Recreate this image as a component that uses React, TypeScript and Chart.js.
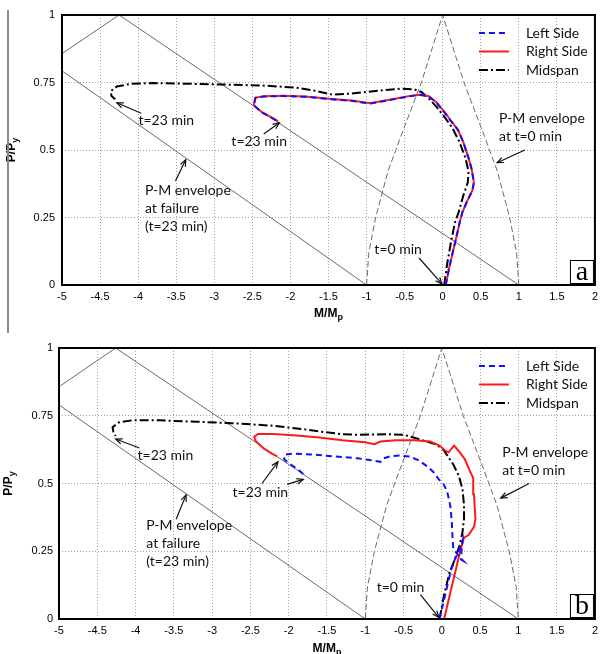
import React, { useEffect, useRef } from 'react';
import { Chart, registerables } from 'chart.js';

Chart.register(...registerables);

type Pt = [number, number];

// ---------- axis ticks ----------
const X_MIN = -5;
const X_MAX = 2;
const X_STEP = 0.5;
const Y_MIN = 0;
const Y_MAX = 1;
const Y_STEP = 0.25;
const X_TICK_LABELS = ['-5', '-4.5', '-4', '-3.5', '-3', '-2.5', '-2', '-1.5', '-1', '-0.5', '0', '0.5', '1', '1.5', '2'];
const Y_TICK_LABELS = ['0', '0.25', '0.5', '0.75', '1'];

const SERIES_NAMES = ['Left Side', 'Right Side', 'Midspan'];

// ---------- panel (a) ----------
const A_LEFT: Pt[] = [
  [0.04, 0], [0.09, 0.07], [0.14, 0.13], [0.19, 0.19], [0.23, 0.24], [0.26, 0.27], [0.32, 0.31],
  [0.39, 0.35], [0.41, 0.38], [0.38, 0.43], [0.34, 0.47], [0.27, 0.53], [0.2, 0.575], [0.1, 0.61],
  [0.02, 0.64], [-0.08, 0.675], [-0.18, 0.698], [-0.3, 0.705], [-0.45, 0.698], [-0.7, 0.685],
  [-0.95, 0.672], [-1.2, 0.682], [-1.5, 0.689], [-1.8, 0.697], [-2.1, 0.7], [-2.35, 0.698],
  [-2.46, 0.693], [-2.48, 0.665], [-2.38, 0.64], [-2.25, 0.62], [-2.15, 0.603],
];
const A_RIGHT: Pt[] = [
  [0.04, 0], [0.09, 0.07], [0.14, 0.13], [0.19, 0.19], [0.23, 0.24], [0.26, 0.27], [0.32, 0.31],
  [0.39, 0.35], [0.41, 0.38], [0.38, 0.43], [0.34, 0.47], [0.27, 0.53], [0.2, 0.575], [0.1, 0.612],
  [0.02, 0.642], [-0.08, 0.676], [-0.18, 0.699], [-0.3, 0.705], [-0.45, 0.699], [-0.7, 0.686],
  [-0.95, 0.673], [-1.2, 0.683], [-1.5, 0.69], [-1.8, 0.698], [-2.1, 0.701], [-2.35, 0.699],
  [-2.46, 0.694], [-2.48, 0.666], [-2.38, 0.641], [-2.25, 0.621], [-2.16, 0.606],
];
const A_MID: Pt[] = [
  [0.02, 0], [0.06, 0.08], [0.11, 0.16], [0.16, 0.23], [0.21, 0.27], [0.27, 0.33], [0.33, 0.38],
  [0.34, 0.42], [0.3, 0.47], [0.22, 0.53], [0.13, 0.58], [0.03, 0.62], [-0.08, 0.66], [-0.18, 0.69],
  [-0.28, 0.715], [-0.38, 0.725], [-0.55, 0.727], [-0.75, 0.722], [-1.0, 0.715], [-1.25, 0.708],
  [-1.45, 0.705], [-1.65, 0.718], [-1.9, 0.73], [-2.3, 0.738], [-2.8, 0.742], [-3.3, 0.745],
  [-3.8, 0.748], [-4.1, 0.745], [-4.28, 0.735], [-4.36, 0.718], [-4.35, 0.7], [-4.3, 0.688],
];
const A_FAIL_UPPER: Pt[] = [[-5, 0.857], [-4.25, 1], [1, 0]];
const A_FAIL_LOWER: Pt[] = [[-5, 0.793], [-1, 0]];

// ---------- panel (b) ----------
const B_LEFT: Pt[] = [
  [-0.03, 0], [0.02, 0.06], [0.07, 0.12], [0.12, 0.18], [0.17, 0.22], [0.22, 0.25], [0.27, 0.29],
  [0.26, 0.26], [0.25, 0.22], [0.28, 0.215], [0.2, 0.24], [0.15, 0.26], [0.14, 0.3], [0.13, 0.36],
  [0.11, 0.42], [0.07, 0.47], [0.02, 0.5], [-0.04, 0.515], [-0.1, 0.54], [-0.2, 0.565], [-0.3, 0.585],
  [-0.42, 0.6], [-0.55, 0.603], [-0.68, 0.6], [-0.76, 0.593], [-0.8, 0.58], [-0.9, 0.585],
  [-1.1, 0.593], [-1.4, 0.6], [-1.7, 0.607], [-1.95, 0.61], [-2.05, 0.607], [-2.06, 0.59],
  [-2.0, 0.575], [-1.92, 0.56], [-1.85, 0.545], [-1.79, 0.53],
];
const B_RIGHT: Pt[] = [
  [0.03, 0], [0.08, 0.06], [0.13, 0.12], [0.19, 0.19], [0.24, 0.25], [0.29, 0.3], [0.35, 0.31],
  [0.42, 0.34], [0.44, 0.37], [0.43, 0.41], [0.42, 0.46], [0.41, 0.52], [0.36, 0.55], [0.3, 0.59],
  [0.22, 0.62], [0.16, 0.64], [0.13, 0.63], [0.09, 0.615], [0.05, 0.62], [-0.03, 0.64],
  [-0.15, 0.655], [-0.35, 0.66], [-0.6, 0.66], [-0.8, 0.655], [-0.88, 0.645], [-1.0, 0.652],
  [-1.3, 0.66], [-1.6, 0.67], [-1.9, 0.677], [-2.2, 0.683], [-2.4, 0.683], [-2.45, 0.673],
  [-2.43, 0.656], [-2.33, 0.63], [-2.22, 0.61], [-2.15, 0.6],
];
const B_MID: Pt[] = [
  [-0.03, 0], [0.03, 0.09], [0.1, 0.17], [0.17, 0.22], [0.23, 0.27], [0.27, 0.32], [0.29, 0.37],
  [0.29, 0.42], [0.27, 0.48], [0.22, 0.53], [0.15, 0.57], [0.08, 0.6], [0.02, 0.625], [-0.08, 0.645],
  [-0.2, 0.655], [-0.35, 0.668], [-0.5, 0.68], [-0.7, 0.682], [-0.9, 0.681], [-1.1, 0.68],
  [-1.3, 0.682], [-1.55, 0.69], [-1.8, 0.7], [-2.2, 0.713], [-2.7, 0.722], [-3.2, 0.728],
  [-3.7, 0.733], [-4.05, 0.733], [-4.22, 0.725], [-4.3, 0.708], [-4.29, 0.69], [-4.26, 0.675],
];
const B_FAIL_UPPER: Pt[] = [[-5, 0.857], [-4.26, 1], [1, 0]];
const B_FAIL_LOWER: Pt[] = [[-5, 0.79], [-1, 0]];

// ---------- P-M envelope at t=0 (both panels) ----------
const ENV_T0: Pt[] = [
  [-1, 0], [-0.97, 0.12], [-0.88, 0.25], [-0.72, 0.42], [-0.55, 0.55], [-0.28, 0.75], [0, 1],
  [0.28, 0.75], [0.55, 0.55], [0.72, 0.42], [0.88, 0.25], [0.97, 0.12], [1, 0],
];

// ---------- annotations ----------
type Note = { lines: string[]; x: number; y: number; align: 'left' | 'center' };
type Arrow = { from: Pt; to: Pt };

const A_NOTES: Note[] = [
  { lines: ['t=23 min'], x: -3.63, y: 0.611, align: 'center' },
  { lines: ['t=23 min'], x: -2.41, y: 0.531, align: 'center' },
  { lines: ['P-M envelope', 'at failure', '(t=23 min)'], x: -3.91, y: 0.35, align: 'left' },
  { lines: ['P-M envelope', 'at t=0 min'], x: 0.74, y: 0.616, align: 'left' },
  { lines: ['t=0 min'], x: -0.585, y: 0.13, align: 'center' },
];
const A_ARROWS: Arrow[] = [
  { from: [-3.96, 0.636], to: [-4.28, 0.675] },
  { from: [-2.35, 0.559], to: [-2.145, 0.601] },
  { from: [-3.51, 0.385], to: [-3.375, 0.464] },
  { from: [1.08, 0.5], to: [0.715, 0.453] },
  { from: [-0.31, 0.1], to: [-0.01, 0.004] },
];
const B_NOTES: Note[] = [
  { lines: ['t=23 min'], x: -3.61, y: 0.603, align: 'center' },
  { lines: ['t=23 min'], x: -2.37, y: 0.466, align: 'center' },
  { lines: ['P-M envelope', 'at failure', '(t=23 min)'], x: -3.86, y: 0.344, align: 'left' },
  { lines: ['P-M envelope', 'at t=0 min'], x: 0.79, y: 0.613, align: 'left' },
  { lines: ['t=0 min'], x: -0.54, y: 0.118, align: 'center' },
];
const B_ARROWS: Arrow[] = [
  { from: [-3.95, 0.631], to: [-4.26, 0.664] },
  { from: [-2.35, 0.5], to: [-2.14, 0.58] },
  { from: [-2.02, 0.497], to: [-1.81, 0.515] },
  { from: [-3.47, 0.368], to: [-3.34, 0.458] },
  { from: [1.14, 0.5], to: [0.77, 0.446] },
  { from: [-0.28, 0.09], to: [-0.04, 0.006] },
];

const NOTE_FONT = '14px Lato, "Open Sans", sans-serif';
const TICK_FONT_FAMILY = '"Liberation Sans", Arial, sans-serif';

// ---------- styles ----------
const LEFT_STYLE = { borderColor: '#1010ff', borderWidth: 2, borderDash: [6, 4] };
const RIGHT_STYLE = { borderColor: '#ff1a1a', borderWidth: 2, borderDash: [] as number[] };
const MID_STYLE = { borderColor: '#000000', borderWidth: 2, borderDash: [9, 3, 2, 3] };
const FAIL_STYLE = { borderColor: '#6a6a6a', borderWidth: 1, borderDash: [] as number[] };
const ENV_STYLE = { borderColor: '#6a6a6a', borderWidth: 1, borderDash: [6, 3] };

function toXY(pts: Pt[]) {
  return pts.map(([x, y]) => ({ x, y }));
}

function labelFor(labels: string[], min: number, step: number, v: number) {
  const i = Math.round((v - min) / step);
  return labels[i] ?? '';
}

function drawSubText(ctx: CanvasRenderingContext2D, main: string, sub: string, cx: number, cy: number) {
  const mainFont = `bold 12px ${TICK_FONT_FAMILY}`;
  const subFont = `bold 9px ${TICK_FONT_FAMILY}`;
  ctx.font = mainFont;
  const wm = ctx.measureText(main).width;
  ctx.font = subFont;
  const ws = ctx.measureText(sub).width;
  const x0 = cx - (wm + ws) / 2;
  ctx.textAlign = 'left';
  ctx.textBaseline = 'alphabetic';
  ctx.font = mainFont;
  ctx.fillText(main, x0, cy + 4);
  ctx.font = subFont;
  ctx.fillText(sub, x0 + wm, cy + 7);
}

const overlayPlugin = {
  id: 'overlay',
  afterDatasetsDraw(chart: any, _args: any, opts: any) {
    const ctx: CanvasRenderingContext2D = chart.ctx;
    const { left, right, top, bottom } = chart.chartArea;
    const xs = chart.scales.x;
    const ys = chart.scales.y;
    ctx.save();

    // arrows
    ctx.strokeStyle = '#111';
    ctx.fillStyle = '#111';
    ctx.lineWidth = 1.2;
    ctx.setLineDash([]);
    (opts.arrows as Arrow[]).forEach((a) => {
      const x1 = xs.getPixelForValue(a.from[0]);
      const y1 = ys.getPixelForValue(a.from[1]);
      const x2 = xs.getPixelForValue(a.to[0]);
      const y2 = ys.getPixelForValue(a.to[1]);
      ctx.beginPath();
      ctx.moveTo(x1, y1);
      ctx.lineTo(x2, y2);
      ctx.stroke();
      const ang = Math.atan2(y2 - y1, x2 - x1);
      const len = 7;
      const spread = 0.4;
      ctx.beginPath();
      ctx.moveTo(x2 - len * Math.cos(ang - spread), y2 - len * Math.sin(ang - spread));
      ctx.lineTo(x2, y2);
      ctx.lineTo(x2 - len * Math.cos(ang + spread), y2 - len * Math.sin(ang + spread));
      ctx.stroke();
    });

    // notes
    ctx.font = NOTE_FONT;
    ctx.textBaseline = 'middle';
    ctx.fillStyle = '#111';
    (opts.notes as Note[]).forEach((n) => {
      const px = xs.getPixelForValue(n.x);
      const py = ys.getPixelForValue(n.y);
      ctx.textAlign = n.align;
      n.lines.forEach((line, i) => ctx.fillText(line, px, py + i * 18));
    });

    // legend
    const lx = right - 116;
    const names: string[] = opts.names;
    names.forEach((name, i) => {
      const ds = chart.data.datasets[i];
      const ly = top + 18 + i * 18.5;
      ctx.strokeStyle = ds.borderColor;
      ctx.lineWidth = ds.borderWidth;
      ctx.setLineDash(ds.borderDash || []);
      ctx.beginPath();
      ctx.moveTo(lx, ly);
      ctx.lineTo(lx + 30, ly);
      ctx.stroke();
      ctx.setLineDash([]);
      ctx.fillStyle = '#111';
      ctx.font = NOTE_FONT;
      ctx.textAlign = 'left';
      ctx.textBaseline = 'middle';
      ctx.fillText(name, lx + 47, ly);
    });

    // panel letter box
    const bx = right - 25;
    const by = bottom - 25;
    ctx.fillStyle = '#fff';
    ctx.fillRect(bx, by, 23, 23);
    ctx.strokeStyle = '#000';
    ctx.lineWidth = 1;
    ctx.strokeRect(bx + 0.5, by + 0.5, 23, 23);
    ctx.fillStyle = '#000';
    ctx.font = '28px "Liberation Serif", "Times New Roman", serif';
    ctx.textAlign = 'center';
    ctx.textBaseline = 'alphabetic';
    ctx.fillText(opts.letter, bx + 12, by + 20);

    // frame
    ctx.strokeStyle = '#000';
    ctx.lineWidth = 2;
    ctx.strokeRect(left, top, right - left, bottom - top);

    // axis titles
    ctx.fillStyle = '#000';
    drawSubText(ctx, 'M/M', 'p', (left + right) / 2, bottom + opts.xTitleOffset);
    ctx.save();
    ctx.translate(opts.yTitleX, (top + bottom) / 2);
    ctx.rotate(-Math.PI / 2);
    drawSubText(ctx, 'P/P', 'y', 0, -4);
    ctx.restore();

    ctx.restore();
  },
};

type PanelCfg = {
  left: Pt[];
  right: Pt[];
  mid: Pt[];
  failUpper: Pt[];
  failLower: Pt[];
  notes: Note[];
  arrows: Arrow[];
  letter: string;
  height: number;
  padTop: number;
  padRight: number;
  yAxisWidth: number;
  xAxisHeight: number;
  yTickPad: number;
  xTitleOffset: number;
  yTitleX: number;
};

function buildConfig(c: PanelCfg): any {
  const line = (label: string, pts: Pt[], style: any) => ({
    label,
    data: toXY(pts),
    showLine: true,
    pointRadius: 0,
    fill: false,
    tension: 0,
    ...style,
  });
  return {
    type: 'scatter',
    data: {
      datasets: [
        line(SERIES_NAMES[0], c.left, LEFT_STYLE),
        line(SERIES_NAMES[1], c.right, RIGHT_STYLE),
        line(SERIES_NAMES[2], c.mid, MID_STYLE),
        line('failure envelope upper', c.failUpper, FAIL_STYLE),
        line('failure envelope lower', c.failLower, FAIL_STYLE),
        line('t=0 envelope', ENV_T0, ENV_STYLE),
      ],
    },
    options: {
      responsive: false,
      animation: false,
      events: [],
      layout: { padding: { top: c.padTop, right: c.padRight, left: 0, bottom: 0 } },
      plugins: {
        legend: { display: false },
        tooltip: { enabled: false },
        overlay: {
          notes: c.notes,
          arrows: c.arrows,
          letter: c.letter,
          names: SERIES_NAMES,
          xTitleOffset: c.xTitleOffset,
          yTitleX: c.yTitleX,
        },
      },
      scales: {
        x: {
          type: 'linear',
          min: X_MIN,
          max: X_MAX,
          ticks: {
            stepSize: X_STEP,
            autoSkip: false,
            maxRotation: 0,
            color: '#000',
            padding: 5,
            font: { family: TICK_FONT_FAMILY, size: 11 },
            callback: (v: number) => labelFor(X_TICK_LABELS, X_MIN, X_STEP, v),
          },
          grid: { color: '#a0a0a0', lineWidth: 1, drawTicks: false },
          border: { display: false, dash: [1, 2] },
          afterFit: (s: any) => {
            s.height = c.xAxisHeight;
          },
        },
        y: {
          type: 'linear',
          min: Y_MIN,
          max: Y_MAX,
          ticks: {
            stepSize: Y_STEP,
            color: '#000',
            padding: c.yTickPad,
            font: { family: TICK_FONT_FAMILY, size: 11 },
            callback: (v: number) => labelFor(Y_TICK_LABELS, Y_MIN, Y_STEP, v),
          },
          grid: { color: '#a0a0a0', lineWidth: 1, drawTicks: false },
          border: { display: false, dash: [1, 2] },
          afterFit: (s: any) => {
            s.width = c.yAxisWidth;
          },
        },
      },
    },
    plugins: [overlayPlugin],
  };
}

const PANEL_A: PanelCfg = {
  left: A_LEFT,
  right: A_RIGHT,
  mid: A_MID,
  failUpper: A_FAIL_UPPER,
  failLower: A_FAIL_LOWER,
  notes: A_NOTES,
  arrows: A_ARROWS,
  letter: 'a',
  height: 330,
  padTop: 15,
  padRight: 4,
  yAxisWidth: 62,
  xAxisHeight: 45,
  yTickPad: 7,
  xTitleOffset: 28,
  yTitleX: 15,
};

const PANEL_B: PanelCfg = {
  left: B_LEFT,
  right: B_RIGHT,
  mid: B_MID,
  failUpper: B_FAIL_UPPER,
  failLower: B_FAIL_LOWER,
  notes: B_NOTES,
  arrows: B_ARROWS,
  letter: 'b',
  height: 324,
  padTop: 18,
  padRight: 6,
  yAxisWidth: 59,
  xAxisHeight: 35,
  yTickPad: 6,
  xTitleOffset: 29,
  yTitleX: 12,
};

function Panel({ cfg, top }: { cfg: PanelCfg; top: number }) {
  const ref = useRef<HTMLCanvasElement>(null);
  useEffect(() => {
    if (!ref.current) return;
    const chart = new Chart(ref.current, buildConfig(cfg));
    return () => chart.destroy();
  }, [cfg]);
  return (
    <canvas
      ref={ref}
      width={603}
      height={cfg.height}
      style={{ position: 'absolute', left: 0, top, width: 603, height: cfg.height }}
    />
  );
}

export default function App() {
  return (
    <div style={{ position: 'absolute', left: 0, top: 0, width: 603, height: 654, background: '#fff', overflow: 'hidden' }}>
      <Panel cfg={PANEL_A} top={0} />
      <Panel cfg={PANEL_B} top={330} />
      <div style={{ position: 'absolute', left: 7, top: 10, width: 2, height: 323, background: '#8c8c8c' }} />
    </div>
  );
}
